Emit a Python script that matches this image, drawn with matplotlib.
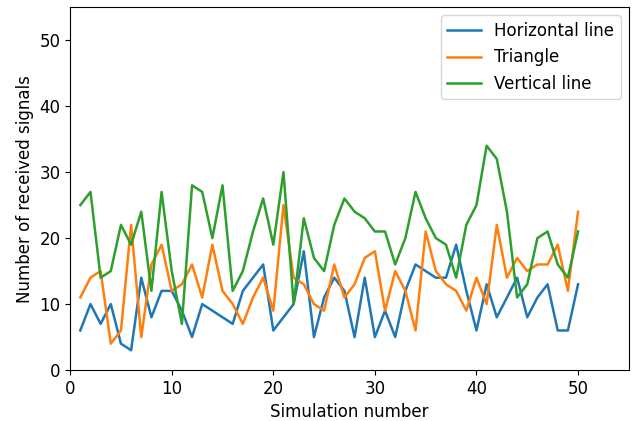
import matplotlib
matplotlib.use("Agg")
import matplotlib.pyplot as plt
import numpy as np

plt.rcParams["font.size"] = 12

# simulation index 1..50
sims = np.arange(1, 51)

horizontal = [6, 10, 7, 10, 4, 3, 14, 8, 12, 12,
              9, 5, 10, 9, 8, 7, 12, 14, 16, 6,
              8, 10, 18, 5, 11, 14, 12, 5, 14, 5,
              9, 5, 12, 16, 15, 14, 14, 19, 12, 6,
              13, 8, 11, 14, 8, 11, 13, 6, 6, 13]
triangle = [11, 14, 15, 4, 6, 22, 5, 16, 19, 12,
            13, 16, 11, 19, 12, 10, 7, 11, 14, 9,
            25, 14, 13, 10, 9, 16, 11, 13, 17, 18,
            9, 15, 12, 6, 21, 15, 13, 12, 9, 14,
            10, 22, 14, 17, 15, 16, 16, 19, 12, 24]
vertical = [25, 27, 14, 15, 22, 19, 24, 12, 27, 15,
            7, 28, 27, 20, 28, 12, 15, 21, 26, 19,
            30, 10, 23, 17, 15, 22, 26, 24, 23, 21,
            21, 16, 20, 27, 23, 20, 19, 14, 22, 25,
            34, 32, 24, 11, 13, 20, 21, 16, 14, 21]

fig, ax = plt.subplots(figsize=(6.32, 4.21), dpi=100)
ax.plot(sims, horizontal, lw=1.8, label="Horizontal line")
ax.plot(sims, triangle, lw=1.8, label="Triangle")
ax.plot(sims, vertical, lw=1.8, label="Vertical line")

ax.set_xlim(0, 55)
ax.set_ylim(0, 55)
ax.set_xticks(np.arange(0, 51, 10))
ax.set_yticks(np.arange(0, 51, 10))
ax.set_xlabel("Simulation number")
ax.set_ylabel("Number of received signals")
ax.legend(loc="upper right")

plt.subplots_adjust(left=0.111, right=0.995, top=0.983, bottom=0.121)
plt.savefig("out.png", dpi=100)
